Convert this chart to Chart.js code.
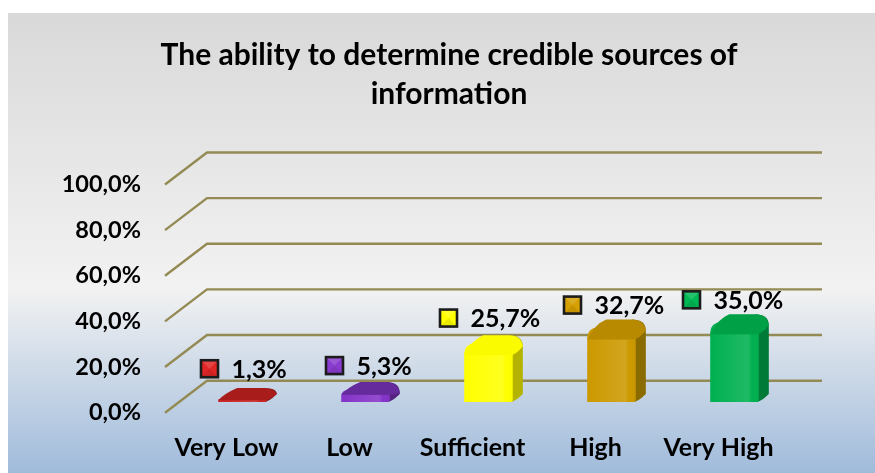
<!DOCTYPE html>
<html><head><meta charset="utf-8">
<script src="https://cdn.jsdelivr.net/npm/chart.js@4/dist/chart.umd.min.js"></script>
<style>
html,body{margin:0;padding:0;background:#fff;overflow:hidden;width:875px;height:473px}
#bg{position:absolute;left:8px;top:13px;width:867px;height:460px;background:linear-gradient(#d9d9d9 0%,#f2f2f2 60%,#a0bbdb 100%)}
#wrap{position:absolute;left:23px;top:0;width:852px;height:473px}
</style></head><body>
<div id="bg"></div>
<div id="wrap"><canvas id="c" width="852" height="473"></canvas></div>
<script>
const titleLines = ["The ability to determine credible sources of", "information"];
const categories = ["Very Low", "Low", "Sufficient", "High", "Very High"];
const values = [1.3, 5.3, 25.7, 32.7, 35.0];
const frontColors = ["#cc2424", "#8434c8", "#ffff00", "#cc9900", "#00b050"];
const topColors = ["#a81c1c", "#652a9c", "#fbfb00", "#b88a00", "#00a047"];
const sideColors = ["#861414", "#54237f", "#b3b300", "#8a6b00", "#007a37"];
const keyColors = ["#e02626", "#8a3cd0", "#ffff00", "#d6a000", "#00b854"];
const labelLift = [41, 35, 36, 33, 33];
const labelShift = [-17, -15, -24, -23, -27];

const fmt = v => v.toFixed(1).replace('.', ',') + '%';
const WALL = {dx: 42, dy: -32, right: 799};
const BAR = {dx: 16, dy: -10.7, depthX: 10, depthY: 8};
const GRID = '#948a54';
const FONT = 'Lato';

const scene = {
  id: 'scene',
  beforeDatasetsDraw(chart) {
    const {ctx, scales: {y}, chartArea: a} = chart;
    ctx.save();
    ctx.strokeStyle = GRID; ctx.lineWidth = 2.4; ctx.lineJoin = 'round';
    y.ticks.forEach(t => {
      const py = y.getPixelForValue(t.value);
      ctx.beginPath();
      ctx.moveTo(a.left, py);
      ctx.lineTo(a.left + WALL.dx, py + WALL.dy);
      ctx.lineTo(WALL.right, py + WALL.dy);
      ctx.stroke();
    });
    ctx.restore();
    ctx.save();
    ctx.translate(BAR.dx, BAR.dy);
    const bars = chart.getDatasetMeta(0).data;
    bars.forEach((el, i) => {
      const {x, y: ty, base, width} = el.getProps(['x', 'y', 'base', 'width'], true);
      const x1 = x + width / 2, h = base - ty;
      const rise = Math.max(BAR.depthY, 14 - h);
      const rightY = Math.min(ty + 3, base - BAR.depthY);
      ctx.fillStyle = sideColors[i];
      ctx.beginPath();
      ctx.moveTo(x1 - 3, base);
      ctx.quadraticCurveTo(x1 + 2, base, x1 + BAR.depthX, base - BAR.depthY);
      ctx.lineTo(x1 + BAR.depthX, rightY);
      ctx.quadraticCurveTo(x1 + BAR.depthX, ty - rise, x1 - 4, ty - rise);
      ctx.lineTo(x1 - 4, Math.min(ty, base - 1));
      ctx.closePath();
      ctx.fill();
    });
  },
  afterDatasetsDraw(chart) {
    const {ctx} = chart;
    const bars = chart.getDatasetMeta(0).data;
    bars.forEach((el, i) => {
      const {x, y: ty, base, width} = el.getProps(['x', 'y', 'base', 'width'], true);
      const x0 = x - width / 2, x1 = x + width / 2, h = base - ty;
      const b = Math.min(12, h * 0.4);
      const rise = Math.max(BAR.depthY, 14 - h);
      const rightY = Math.min(ty + 3, base - BAR.depthY);
      const g = ctx.createLinearGradient(x0, 0, x1, 0);
      g.addColorStop(0, 'rgba(255,255,255,0)');
      g.addColorStop(0.78, 'rgba(255,255,255,0.12)');
      g.addColorStop(0.86, 'rgba(255,255,255,0)');
      g.addColorStop(1, 'rgba(0,0,0,0.03)');
      ctx.fillStyle = g;
      ctx.fillRect(x0, ty + b, width, h - b);
      ctx.fillStyle = topColors[i];
      ctx.beginPath();
      ctx.moveTo(x0, ty + b);
      ctx.quadraticCurveTo(x0 + 7, ty - rise + 5, x0 + 19, ty - rise);
      ctx.lineTo(x1 - 4, ty - rise);
      ctx.quadraticCurveTo(x1 + 8, ty - rise, x1 + BAR.depthX, rightY);
      ctx.quadraticCurveTo(x1 + 3, ty + b, x1 - 3, ty + b);
      ctx.closePath();
      ctx.fill();
    });
    ctx.restore();
    ctx.save();
    const y = chart.scales.y;
    bars.forEach((el, i) => {
      const cx = el.x + labelShift[i];
      const cy = y.getPixelForValue(values[i]) - labelLift[i];
      const s = 17, r = s / 2;
      ctx.fillStyle = keyColors[i];
      ctx.fillRect(cx - r, cy - r, s, s);
      ctx.fillStyle = 'rgba(255,255,255,0.14)';
      ctx.beginPath(); ctx.moveTo(cx - r, cy - r); ctx.lineTo(cx + r, cy - r); ctx.lineTo(cx, cy); ctx.closePath(); ctx.fill();
      ctx.fillStyle = 'rgba(0,0,0,0.08)';
      ctx.beginPath(); ctx.moveTo(cx - r, cy + r); ctx.lineTo(cx + r, cy + r); ctx.lineTo(cx, cy); ctx.closePath(); ctx.fill();
      ctx.strokeStyle = '#1c1c1c'; ctx.lineWidth = 2.6;
      ctx.strokeRect(cx - r, cy - r, s, s);
      ctx.fillStyle = '#000';
      ctx.font = 'bold 25px ' + FONT;
      ctx.textAlign = 'left'; ctx.textBaseline = 'middle';
      ctx.fillText(fmt(values[i]), cx + 22, cy + 1);
    });
    ctx.restore();
  }
};

new Chart(document.getElementById('c'), {
  type: 'bar',
  data: {labels: categories, datasets: [{
    data: values,
    backgroundColor: frontColors,
    borderWidth: 0,
    barPercentage: 1,
    categoryPercentage: 0.395,
    borderRadius: {topLeft: 10, topRight: 3, bottomLeft: 0, bottomRight: 2},
    borderSkipped: false
  }]},
  options: {
    responsive: false,
    animation: false,
    layout: {padding: 0},
    plugins: {
      legend: {display: false},
      tooltip: {enabled: false},
      title: {display: true, text: titleLines, color: '#000',
        font: {family: FONT, weight: 'bold', size: 30, lineHeight: 1.3},
        padding: {top: 36, bottom: 70.5}}
    },
    scales: {
      x: {
        grid: {display: false, drawTicks: false}, border: {display: false},
        afterFit(s) { s.height = 60.3; },
        ticks: {color: '#000', padding: 20, maxRotation: 0, autoSkip: false,
          font: {family: FONT, weight: 'bold', size: 25}}
      },
      y: {
        min: 0, max: 100,
        grid: {display: false, drawTicks: false}, border: {display: false},
        afterFit(s) { s.width = 142; },
        ticks: {stepSize: 20, color: '#000', padding: 24,
          font: {family: FONT, weight: 'bold', size: 23.5},
          callback: v => fmt(v)}
      },
      spacer: {
        position: 'right', min: 0, max: 100,
        grid: {display: false, drawTicks: false}, border: {display: false},
        ticks: {display: false},
        afterFit(s) { s.width = 95; }
      }
    }
  },
  plugins: [scene]
});
</script>
</body></html>
